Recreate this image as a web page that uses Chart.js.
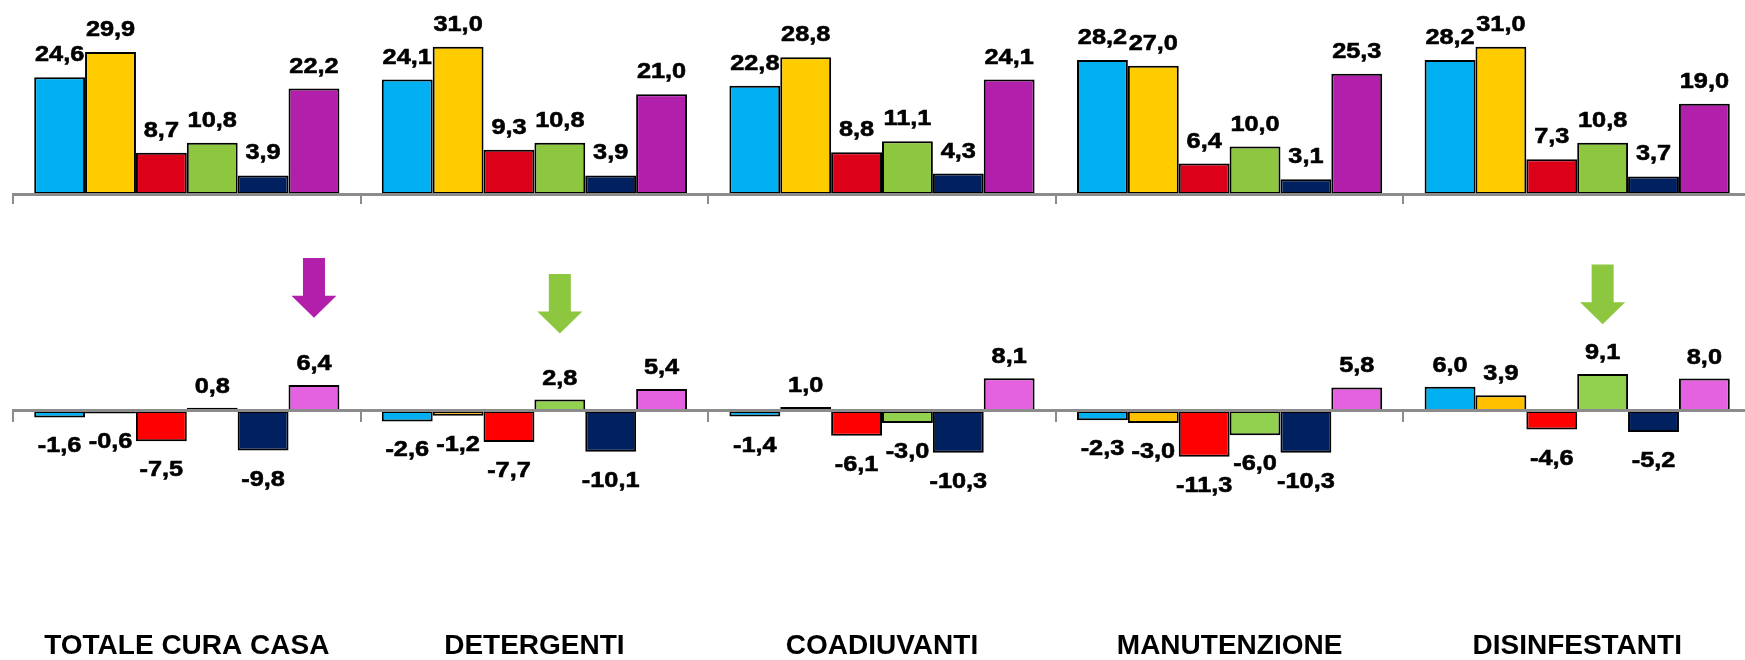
<!DOCTYPE html>
<html>
<head>
<meta charset="utf-8">
<script src="https://cdn.jsdelivr.net/npm/chart.js@4.4.1/dist/chart.umd.min.js"></script>
<style>
  html, body { margin: 0; padding: 0; background: #fff; overflow: hidden; }
  #wrap { position: relative; width: 1745px; height: 660px; overflow: hidden; background: #fff; }
  #wrap canvas { position: absolute; left: 0; }
  #shares { top: 0; }
  #changes { top: 215px; }
</style>
</head>
<body>
<div id="wrap">
  <canvas id="shares" width="1752" height="215"></canvas>
  <canvas id="changes" width="1752" height="445"></canvas>
</div>
<script>
// Categories shown under the lower panel
const categories = ['TOTALE CURA CASA', 'DETERGENTI', 'COADIUVANTI', 'MANUTENZIONE', 'DISINFESTANTI'];

// Upper panel: shares (%) per category, one array per series
const share1 = [24.6, 24.1, 22.8, 28.2, 28.2];
const share2 = [29.9, 31.0, 28.8, 27.0, 31.0];
const share3 = [8.7, 9.3, 8.8, 6.4, 7.3];
const share4 = [10.8, 10.8, 11.1, 10.0, 10.8];
const share5 = [3.9, 3.9, 4.3, 3.1, 3.7];
const share6 = [22.2, 21.0, 24.1, 25.3, 19.0];

// Lower panel: changes per category, one array per series
const change1 = [-1.6, -2.6, -1.4, -2.3, 6.0];
const change2 = [-0.6, -1.2, 1.0, -3.0, 3.9];
const change3 = [-7.5, -7.7, -6.1, -11.3, -4.6];
const change4 = [0.8, 2.8, -3.0, -6.0, 9.1];
const change5 = [-9.8, -10.1, -10.3, -10.3, -5.2];
const change6 = [6.4, 5.4, 8.1, 5.8, 8.0];

// Highlight arrows in the lower panel: category, series, tail value, tip value
const arrowCategory = [0, 1, 4];
const arrowSeries = [5, 3, 3];
const arrowFrom = [37.8, 33.8, 36.2];
const arrowTo = [23.0, 19.1, 21.4];
const arrowColor = ['#B11FAB', '#8DC63F', '#8DC63F'];

const shareColors = ['#00B0F0', '#FFCC00', '#DC0018', '#8DC63F', '#002060', '#B11FAB'];
const changeColors = ['#00B0F0', '#FFC000', '#FF0000', '#92D050', '#002060', '#E462DF'];

const AXIS_GREY = '#8C8C8C';
const LABEL_FONT = 'bold 22px "Liberation Sans", Arial, sans-serif';

// Value labels above positive bars and below negative ones, Italian decimal comma
const valueLabels = {
  id: 'valueLabels',
  afterDatasetsDraw(chart, args, opts) {
    const ctx = chart.ctx;
    ctx.save();
    ctx.font = LABEL_FONT;
    ctx.fillStyle = '#000';
    ctx.strokeStyle = '#000';
    ctx.lineWidth = 0.6;
    ctx.textAlign = 'center';
    ctx.textBaseline = 'alphabetic';
    chart.data.datasets.forEach((ds, i) => {
      const meta = chart.getDatasetMeta(i);
      meta.data.forEach((bar, j) => {
        const v = ds.data[j];
        const txt = v.toFixed(1).replace('.', ',');
        const y = v >= 0 ? bar.y - opts.above : bar.y + opts.below;
        ctx.save();
        ctx.translate(bar.x, y);
        ctx.scale(1.15, 1);
        ctx.fillText(txt, 0, 0);
        ctx.strokeText(txt, 0, 0);
        ctx.restore();
      });
    });
    ctx.restore();
  }
};

// Downward block arrows pointing at a chosen bar
const highlightArrows = {
  id: 'highlightArrows',
  afterDatasetsDraw(chart) {
    const ctx = chart.ctx;
    const yScale = chart.scales.y;
    const shaft = 11, head = 22.5, headLen = 22;
    ctx.save();
    arrowCategory.forEach((c, k) => {
      const bar = chart.getDatasetMeta(arrowSeries[k]).data[c];
      const x = bar.x;
      const y0 = yScale.getPixelForValue(arrowFrom[k]);
      const y1 = yScale.getPixelForValue(arrowTo[k]);
      const yh = y1 - headLen;
      ctx.beginPath();
      ctx.moveTo(x - shaft, y0);
      ctx.lineTo(x + shaft, y0);
      ctx.lineTo(x + shaft, yh);
      ctx.lineTo(x + head, yh);
      ctx.lineTo(x, y1);
      ctx.lineTo(x - head, yh);
      ctx.lineTo(x - shaft, yh);
      ctx.closePath();
      ctx.fillStyle = arrowColor[k];
      ctx.fill();
    });
    ctx.restore();
  }
};

function makeSets(arrays, colors) {
  return arrays.map((data, i) => ({
    label: 'serie ' + (i + 1),
    data: data,
    backgroundColor: colors[i],
    borderColor: '#000',
    borderWidth: 2,
    borderSkipped: false,
    stack: 's' + i,
    categoryPercentage: 0.878,
    barPercentage: 1.0
  }));
}

const axisGrid = {
  display: true,
  drawOnChartArea: false,
  drawTicks: true,
  tickLength: 10,
  color: AXIS_GREY,
  lineWidth: 2,
  offset: true,
  z: 1
};
const axisBorder = { display: true, color: AXIS_GREY, width: 3, z: 1 };

new Chart(document.getElementById('shares'), {
  type: 'bar',
  data: {
    labels: categories,
    datasets: makeSets([share1, share2, share3, share4, share5, share6], shareColors)
  },
  options: {
    responsive: false,
    animation: false,
    events: [],
    layout: { padding: { left: 13, right: 1, top: 4, bottom: 11 } },
    plugins: { legend: { display: false }, tooltip: { enabled: false },
      valueLabels: { above: 16, below: 35 } },
    scales: {
      x: { offset: true, grid: axisGrid, border: axisBorder, ticks: { display: false } },
      y: { display: false, min: 0, max: 40 }
    }
  },
  plugins: [valueLabels]
});

new Chart(document.getElementById('changes'), {
  type: 'bar',
  data: {
    labels: categories,
    datasets: makeSets([change1, change2, change3, change4, change5, change6], changeColors)
  },
  options: {
    responsive: false,
    animation: false,
    events: [],
    layout: { padding: { left: 13, right: 1, top: 34, bottom: 0 } },
    plugins: { legend: { display: false }, tooltip: { enabled: false },
      valueLabels: { above: 15, below: 35 } },
    scales: {
      x: {
        offset: true,
        grid: { display: false },
        border: { display: false },
        afterFit: (scale) => { scale.height = 45; },
        ticks: { color: '#000', padding: 6, maxRotation: 0, autoSkip: false,
          font: { family: '"Liberation Sans", Arial, sans-serif', size: 28, weight: 'bold' } }
      },
      x0: {
        type: 'category',
        position: { y: 0 },
        offset: true,
        grid: axisGrid,
        border: axisBorder,
        ticks: { display: false }
      },
      y: { display: false, min: -50.4, max: 40 }
    }
  },
  plugins: [valueLabels, highlightArrows]
});
</script>
</body>
</html>
